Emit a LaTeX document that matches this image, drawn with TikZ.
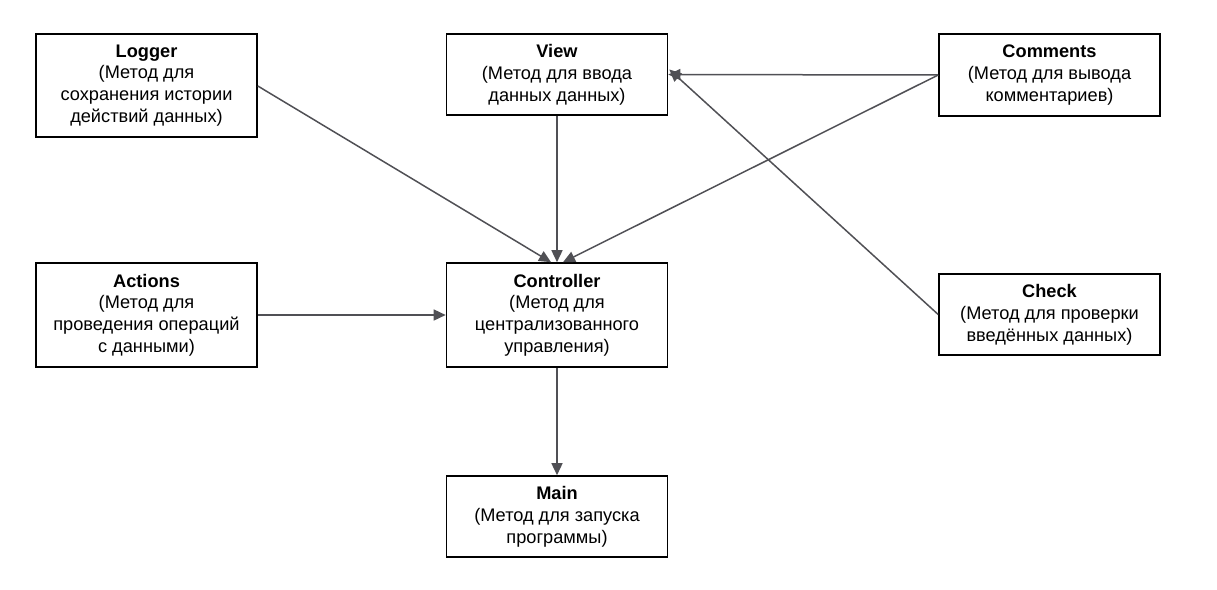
\documentclass[tikz,border=0pt]{standalone}
\usepackage{fontspec}
\setmainfont{Liberation Sans}
\usetikzlibrary{arrows.meta}
\definecolor{arr}{HTML}{505055}
\begin{document}
\begin{tikzpicture}[x=1pt,y=-1pt,
  box/.style={draw=black,line width=1.6pt,minimum width=221pt,align=center,inner sep=0pt,font=\fontsize{18.2pt}{21.8pt}\selectfont},
  conn/.style={draw=arr,line width=1.5pt,-{Triangle[length=12pt,width=11pt]}}]
\useasboundingbox (0,0) rectangle (1217,589);
\node[box,minimum height=103pt] (logger) at (146.5,85.5) {\textbf{Logger}\\(Метод для\\сохранения истории\\действий данных)};
\node[box,minimum height=81pt] (view) at (557,74.5) {\textbf{View}\\(Метод для ввода\\данных данных)};
\node[box,minimum height=82pt] (comments) at (1049.5,75) {\textbf{Comments}\\(Метод для вывода\\комментариев)};
\node[box,minimum height=104pt] (actions) at (146.5,315) {\textbf{Actions}\\(Метод для\\проведения операций\\с данными)};
\node[box,minimum height=104pt] (controller) at (557,315) {\textbf{Controller}\\(Метод для\\централизованного\\управления)};
\node[box,minimum height=81pt] (check) at (1049.5,314.5) {\textbf{Check}\\(Метод для проверки\\введённых данных)};
\node[box,minimum height=81pt] (main) at (557,516.5) {\textbf{Main}\\(Метод для запуска\\программы)};
\coordinate (ctl) at ([xshift=-6pt]controller.north);
\coordinate (ctr) at ([xshift=6pt]controller.north);
\coordinate (vr) at ([yshift=0pt]view.east);
\coordinate (vr2) at ([xshift=1pt,yshift=5pt]view.east);
\draw[conn] (logger.east |- 0,86) -- (ctl);
\draw[conn] (view.south) -- (controller.north);
\draw[conn] (comments.west) -- (vr);
\draw[conn] (comments.west) -- (ctr);
\draw[conn] (check.west) -- (vr2);
\draw[conn] (actions.east) -- (controller.west);
\draw[conn] (controller.south) -- (main.north);
\end{tikzpicture}
\end{document}
